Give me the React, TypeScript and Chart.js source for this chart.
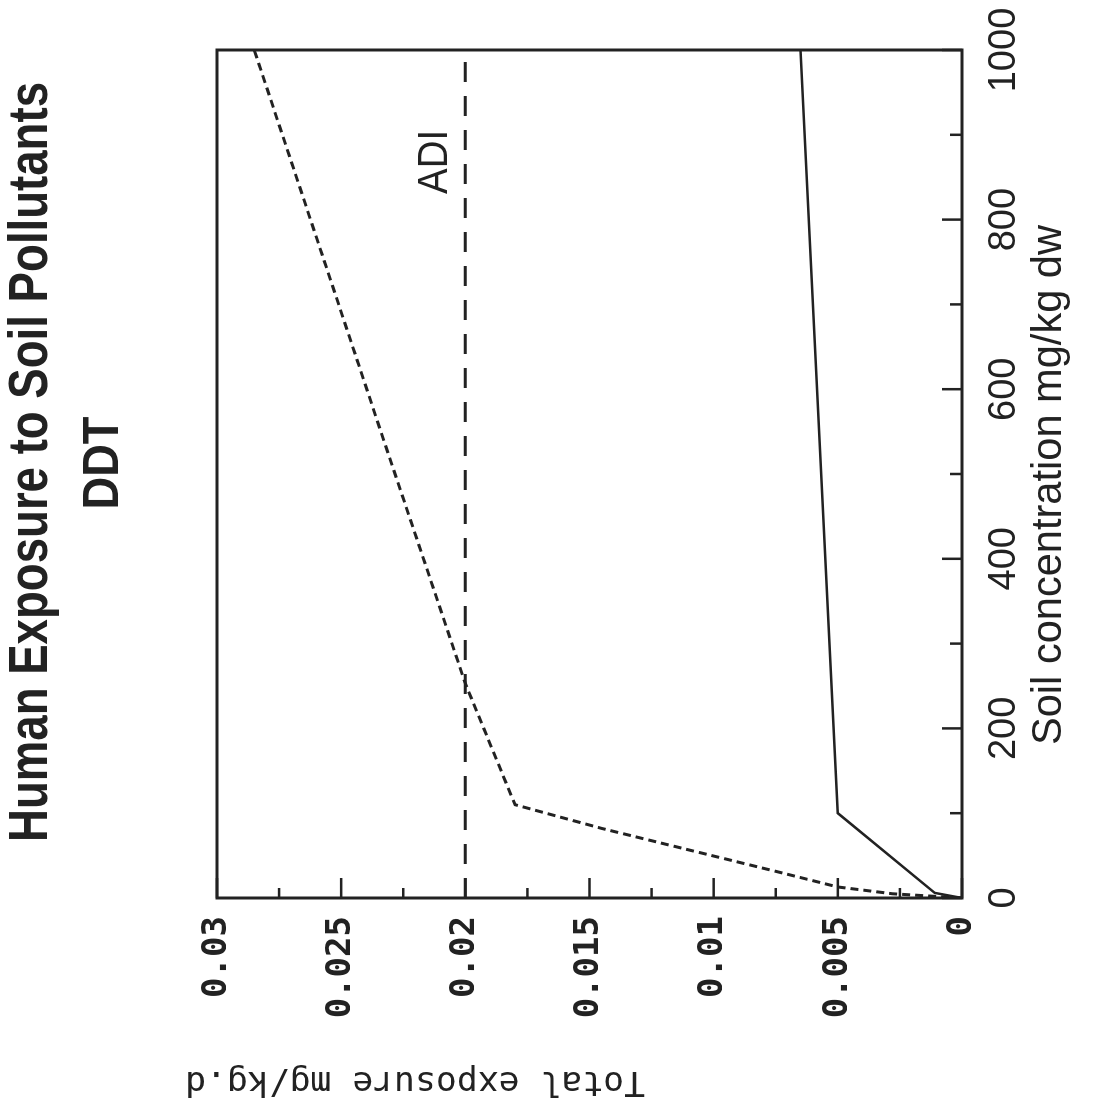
import React, { useEffect, useRef } from 'react';
import { Chart, registerables } from 'chart.js';

Chart.register(...registerables);

// Soil concentration (mg/kg dw) vs total exposure (mg/kg.d)
const soilTotal = [0, 5, 13, 30, 82, 110, 253, 541, 1000];
const exposureTotal = [0, 0.0028, 0.005, 0.0073, 0.0145, 0.018, 0.02, 0.0233, 0.0285];
const soilLower = [0, 6, 100, 1000];
const exposureLower = [0, 0.0011, 0.005, 0.0065];
const adiSoil = [0, 1000];
const adiValue = [0.02, 0.02];

const titleLine1 = 'Human Exposure to Soil Pollutants';
const titleLine2 = 'DDT';
const xTitle = 'Soil concentration mg/kg dw';
const yTitle = 'Total exposure mg/kg.d';
const adiLabel = 'ADI';

const INK = '#222';
const W = 1105; // unrotated width
const H = 1097; // unrotated height

function fitted(ctx: CanvasRenderingContext2D, text: string, cx: number, base: number, font: string, width: number, rot = 0) {
  ctx.save();
  ctx.font = font;
  const w = ctx.measureText(text).width;
  ctx.translate(cx, base);
  if (rot) ctx.rotate(rot);
  ctx.scale(width / w, 1);
  ctx.textAlign = 'center';
  ctx.textBaseline = 'alphabetic';
  ctx.fillStyle = INK;
  ctx.fillText(text, 0, 0);
  ctx.restore();
}

const framePlugin = {
  id: 'framePlugin',
  afterDatasetsDraw(chart: any) {
    const { ctx, chartArea: a, scales } = chart;
    ctx.save();
    ctx.strokeStyle = INK;
    ctx.lineWidth = 3;
    ctx.strokeRect(a.left, a.top, a.right - a.left, a.bottom - a.top);
    ctx.lineWidth = 2.5;
    const xs = scales.x;
    xs.ticks.forEach((t: any) => {
      const px = xs.getPixelForValue(t.value);
      const major = Math.round(t.value / 100) % 2 === 0;
      const len = major ? 20 : 12;
      ctx.beginPath();
      ctx.moveTo(px, a.bottom);
      ctx.lineTo(px, a.bottom - len);
      ctx.stroke();
    });
    const ys = scales.y;
    ys.ticks.forEach((t: any) => {
      const py = ys.getPixelForValue(t.value);
      const major = Math.round(t.value / 0.0025) % 2 === 0;
      const len = major ? 20 : 10;
      ctx.beginPath();
      ctx.moveTo(a.left, py);
      ctx.lineTo(a.left + len, py);
      ctx.stroke();
    });
    ctx.restore();
  },
  afterDraw(chart: any) {
    const { ctx, scales } = chart;
    fitted(ctx, titleLine1, 643, 47, "bold 55px 'Liberation Sans', Arial, sans-serif", 760);
    fitted(ctx, titleLine2, 642, 118, "bold 50px 'Liberation Sans', Arial, sans-serif", 93);
    fitted(ctx, xTitle, 620, 1061, "42px 'Liberation Sans', Arial, sans-serif", 520);
    fitted(ctx, yTitle, 33, 415, "34px 'DejaVu Sans Mono', monospace", 460, -Math.PI / 2);
    const ax = scales.x.getPixelForValue(868);
    const ay = scales.y.getPixelForValue(adiValue[0]) - 18;
    fitted(ctx, adiLabel, ax, ay, "42px 'Liberation Sans', Arial, sans-serif", 64);
  },
};

export default function App() {
  const ref = useRef<HTMLCanvasElement | null>(null);
  useEffect(() => {
    if (!ref.current) return;
    const chart = new Chart(ref.current, {
      type: 'line',
      data: {
        datasets: [
          {
            label: 'Total exposure',
            data: soilTotal.map((x, i) => ({ x, y: exposureTotal[i] })),
            borderColor: INK,
            borderWidth: 3,
            borderDash: [8, 5],
            pointRadius: 0,
            fill: false,
            tension: 0,
          },
          {
            label: 'Exposure',
            data: soilLower.map((x, i) => ({ x, y: exposureLower[i] })),
            borderColor: INK,
            borderWidth: 2.5,
            pointRadius: 0,
            fill: false,
            tension: 0,
          },
          {
            label: 'ADI',
            data: adiSoil.map((x, i) => ({ x, y: adiValue[i] })),
            borderColor: INK,
            borderWidth: 3,
            borderDash: [20, 14],
            pointRadius: 0,
            fill: false,
            tension: 0,
          },
        ],
      },
      options: {
        animation: false,
        responsive: false,
        devicePixelRatio: 1,
        events: [],
        layout: { padding: { left: 0, top: 217, right: 50, bottom: 0 }, autoPadding: false },
        plugins: { legend: { display: false }, tooltip: { enabled: false }, title: { display: false } },
        scales: {
          x: {
            type: 'linear',
            min: 0,
            max: 1000,
            grid: { display: false, drawTicks: false },
            border: { display: false },
            ticks: {
              stepSize: 100,
              autoSkip: false,
              maxRotation: 0,
              padding: 20,
              color: INK,
              font: { family: "'Liberation Sans Narrow', 'Liberation Sans', sans-serif", size: 38 },
              callback: (v: any) => (Math.round(v / 100) % 2 === 0 ? String(Math.round(v)) : ''),
            },
            afterFit: (s: any) => {
              s.height = 135;
              s.paddingLeft = 0;
              s.paddingRight = 0;
            },
          },
          y: {
            type: 'linear',
            min: 0,
            max: 0.03,
            grid: { display: false, drawTicks: false },
            border: { display: false },
            ticks: {
              stepSize: 0.0025,
              autoSkip: false,
              maxTicksLimit: 20,
              padding: 18,
              color: INK,
              font: { family: "'DejaVu Sans Mono', monospace", size: 34, weight: 'bold' },
              callback: (v: any) => {
                const k = Math.round(v / 0.0025);
                if (k % 2 !== 0) return '';
                return String(Number((k * 0.0025).toFixed(4)));
              },
            },
            afterFit: (s: any) => {
              s.width = 207;
              s.paddingTop = 0;
              s.paddingBottom = 0;
            },
          },
        },
      } as any,
      plugins: [framePlugin],
    });
    return () => chart.destroy();
  }, []);

  return (
    <div style={{ position: 'fixed', left: 0, top: 0, width: 1097, height: 1105, background: '#fff', overflow: 'hidden' }}>
      <canvas
        ref={ref}
        width={W}
        height={H}
        style={{
          position: 'absolute',
          left: 0,
          top: 0,
          width: W,
          height: H,
          transformOrigin: '0 0',
          transform: `translate(0px, ${W}px) rotate(-90deg)`,
        }}
      />
    </div>
  );
}
